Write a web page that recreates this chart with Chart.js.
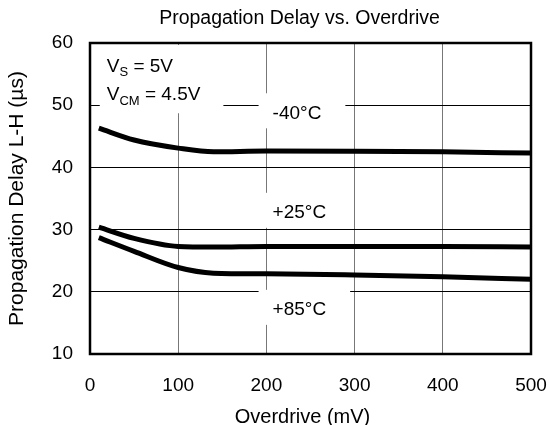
<!DOCTYPE html>
<html>
<head>
    <title>Propagation Delay vs. Overdrive</title>
    <script src="https://cdn.jsdelivr.net/npm/chart.js"></script>
    <style>
        body {
            margin: 0;
            padding: 0;
            background: #fff;
        }
        .container {
            width: 550px;
            height: 425px;
        }
    </style>
</head>
<body>
    <div class="container">
        <canvas id="delayChart"></canvas>
    </div>

    <script>
        // data
        const overdrive = [10, 50, 100, 140, 200, 300, 400, 500];
        const delayMinus40 = [46.3, 44.4, 43.1, 42.5, 42.65, 42.6, 42.5, 42.3];
        const delayPlus25 = [30.4, 28.6, 27.3, 27.2, 27.3, 27.3, 27.3, 27.2];
        const delayPlus85 = [28.7, 26.5, 23.9, 23.0, 22.9, 22.7, 22.4, 22.0];
        const xTickValues = [0, 100, 200, 300, 400, 500];
        const yTickValues = [10, 20, 30, 40, 50, 60];
        const seriesNames = ['-40°C', '+25°C', '+85°C'];

        const chartTitle = 'Propagation Delay vs. Overdrive';
        const xTitle = 'Overdrive (mV)';
        const yTitle = 'Propagation Delay L-H (µs)';

        // text labels inside the plot, placed in data units
        const curveLabels = [
            { text: seriesNames[0], x: 207, y: 48.7 },
            { text: seriesNames[1], x: 207, y: 32.7 },
            { text: seriesNames[2], x: 207, y: 17.1 }
        ];
        const conditionLabels = [
            { main: 'V', sub: 'S', rest: ' = 5V', x: 19, y: 56.2 },
            { main: 'V', sub: 'CM', rest: ' = 4.5V', x: 19, y: 51.6 }
        ];

        const FONT = "'Liberation Sans', Arial, sans-serif";

        function toPoints(ys) {
            return overdrive.map((x, i) => ({ x: x, y: ys[i] }));
        }

        const textBoxes = {
            id: 'textBoxes',
            beforeDatasetsDraw(chart) {
                const ctx = chart.ctx;
                const xs = chart.scales.x;
                const ys = chart.scales.y;
                ctx.save();
                ctx.textBaseline = 'middle';
                ctx.textAlign = 'left';

                const big = '19px ' + FONT;
                const small = '13px ' + FONT;

                // condition block, one white box behind both lines
                const left = xs.getPixelForValue(conditionLabels[0].x);
                let widest = 0;
                conditionLabels.forEach(l => {
                    ctx.font = big;
                    let w = ctx.measureText(l.main + l.rest).width;
                    ctx.font = small;
                    w += ctx.measureText(l.sub).width;
                    widest = Math.max(widest, w);
                });
                const botY = ys.getPixelForValue(conditionLabels[1].y);
                const top = chart.chartArea.top + 2;
                ctx.fillStyle = '#fff';
                ctx.fillRect(left - 7, top, widest + 30, botY + 18 - top);
                ctx.fillStyle = '#000';
                conditionLabels.forEach(l => {
                    const py = ys.getPixelForValue(l.y);
                    let px = left;
                    ctx.font = big;
                    ctx.fillText(l.main, px, py);
                    px += ctx.measureText(l.main).width;
                    ctx.font = small;
                    ctx.fillText(l.sub, px, py + 6);
                    px += ctx.measureText(l.sub).width;
                    ctx.font = big;
                    ctx.fillText(l.rest, px, py);
                });

                // temperature labels
                ctx.font = big;
                curveLabels.forEach(l => {
                    const px = xs.getPixelForValue(l.x);
                    const py = ys.getPixelForValue(l.y);
                    const w = ctx.measureText(l.text).width;
                    ctx.fillStyle = '#fff';
                    ctx.fillRect(px - 14, py - 20, w + 38, 35);
                    ctx.fillStyle = '#000';
                    ctx.fillText(l.text, px, py);
                });
                ctx.restore();
            },
            afterDatasetsDraw(chart) {
                const a = chart.chartArea;
                const ctx = chart.ctx;
                ctx.save();
                ctx.strokeStyle = '#000';
                ctx.lineWidth = 2.5;
                ctx.strokeRect(a.left, a.top, a.right - a.left, a.bottom - a.top);

                // chart title and x title sit a little left of the plot centre
                const mid = (a.left + a.right) / 2;
                ctx.fillStyle = '#000';
                ctx.textAlign = 'center';
                ctx.textBaseline = 'alphabetic';
                ctx.font = '19.5px ' + FONT;
                ctx.fillText(chartTitle, mid - 11, 24);
                ctx.font = '20px ' + FONT;
                ctx.fillText(xTitle, mid - 8, 423);
                ctx.restore();
            }
        };

        const lineStyle = {
            borderColor: '#000',
            borderWidth: 5,
            pointRadius: 0,
            fill: false,
            cubicInterpolationMode: 'monotone'
        };

        new Chart(document.getElementById('delayChart'), {
            type: 'line',
            data: {
                datasets: [
                    Object.assign({ label: seriesNames[0], data: toPoints(delayMinus40) }, lineStyle),
                    Object.assign({ label: seriesNames[1], data: toPoints(delayPlus25) }, lineStyle),
                    Object.assign({ label: seriesNames[2], data: toPoints(delayPlus85) }, lineStyle)
                ]
            },
            options: {
                responsive: true,
                maintainAspectRatio: false,
                animation: false,
                layout: { padding: { top: 43, right: 19, bottom: 0, left: 4 } },
                plugins: {
                    legend: { display: false },
                    tooltip: { enabled: false },
                    title: { display: false }
                },
                scales: {
                    x: {
                        type: 'linear',
                        min: 0,
                        max: 500,
                        afterBuildTicks: axis => { axis.ticks = xTickValues.map(v => ({ value: v })); },
                        afterFit: axis => {
                            axis.height = 71;
                            axis.paddingLeft = 0;
                            axis.paddingRight = 0;
                        },
                        grid: { color: '#777', lineWidth: 1, drawTicks: false },
                        border: { display: false },
                        ticks: {
                            color: '#000',
                            padding: 20,
                            font: { family: FONT, size: 19 }
                        }
                    },
                    y: {
                        min: 10,
                        max: 60,
                        afterBuildTicks: axis => { axis.ticks = yTickValues.map(v => ({ value: v })); },
                        afterFit: axis => {
                            axis.width = 86;
                            axis.paddingTop = 0;
                            axis.paddingBottom = 0;
                        },
                        grid: { color: '#000', lineWidth: 1, drawTicks: false },
                        border: { display: false },
                        ticks: {
                            color: '#000',
                            padding: 17,
                            font: { family: FONT, size: 19 }
                        },
                        title: {
                            display: true,
                            text: yTitle,
                            color: '#000',
                            font: { family: FONT, size: 21 },
                            padding: { top: 1, bottom: 4 }
                        }
                    }
                }
            },
            plugins: [textBoxes]
        });
    </script>
</body>
</html>
